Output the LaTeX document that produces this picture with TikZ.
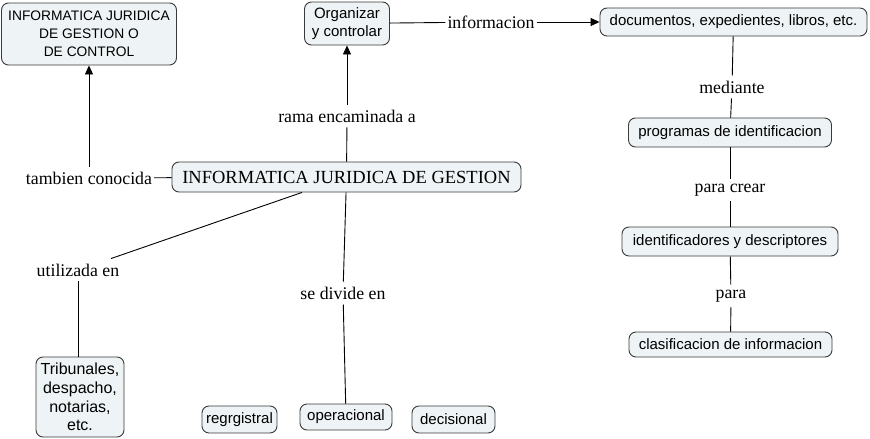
\documentclass[tikz,border=0pt]{standalone}
\usepackage{fontspec}
\setmainfont{Liberation Serif}
\setsansfont{Liberation Sans}
\usetikzlibrary{arrows.meta}
\definecolor{boxfill}{HTML}{EEF3F5}
\definecolor{boxline}{HTML}{3A3A3A}
\begin{document}
\begin{tikzpicture}[x=1pt,y=-1pt,
  concept/.style={draw=boxline, fill=boxfill, rounded corners=7pt, line width=0.9pt,
    font=\sffamily\fontsize{15}{18}\selectfont, align=center, inner sep=2pt},
  lbl/.style={font=\fontsize{17.8}{20}\selectfont, inner xsep=2pt, inner ysep=5pt},
  link/.style={draw=black, line width=0.9pt},
  arr/.style={link, -{Triangle[length=9pt,width=8pt]}}]
\useasboundingbox[fill=white] (0,0) rectangle (870,439);
% concepts
\node[concept, minimum width=175pt, minimum height=62pt, font=\sffamily\fontsize{13.8}{18}\selectfont] (A) at (89,34) {INFORMATICA JURIDICA\\DE GESTION O\\DE CONTROL};
\node[concept, minimum width=85pt, minimum height=43pt] (B) at (347,23.5) {Organizar\\y controlar};
\node[concept, minimum width=267pt, minimum height=28pt] (C) at (733.5,22) {documentos, expedientes, libros, etc.};
\node[concept, minimum width=203pt, minimum height=29pt] (D) at (730,132.5) {programas de identificacion};
\node[concept, minimum width=216pt, minimum height=29pt] (E) at (730,241.5) {identificadores y descriptores};
\node[concept, minimum width=203pt, minimum height=25pt] (F) at (730.5,344.5) {clasificacion de informacion};
\node[concept, minimum width=349pt, minimum height=30pt, font=\fontsize{18.5}{20}\selectfont] (G) at (346.5,177) {INFORMATICA JURIDICA DE GESTION};
\node[concept, minimum width=88pt, minimum height=80pt, font=\sffamily\fontsize{16}{18.8}\selectfont] (H) at (80,397) {Tribunales,\\despacho,\\notarias,\\etc.};
\node[concept, minimum width=75pt, minimum height=27pt] (I) at (239.5,419.5) {regrgistral};
\node[concept, minimum width=92pt, minimum height=26pt] (J) at (346,417) {operacional};
\node[concept, minimum width=83pt, minimum height=27pt] (K) at (453.5,419.5) {decisional};
% labels
\node[lbl] (tc) at (89,178) {tambien conocida};
\node[lbl] (re) at (347,116) {rama encaminada a};
\node[lbl] (inf) at (491,22) {informacion};
\node[lbl] (me) at (732,87) {mediante};
\node[lbl] (pc) at (730,190) {para crear};
\node[lbl] (pa) at (731,296) {para};
\node[lbl] (ue) at (78,270) {utilizada en};
\node[lbl] (sd) at (343,293) {se divide en};
% connectors
\draw[link] (G) -- (tc);
\draw[arr] (tc) -- (A);
\draw[link] (G) -- (re);
\draw[arr] (re) -- (B);
\draw[link] (B) -- (inf);
\draw[arr] (inf) -- (C);
\draw[link] (C) -- (me);
\draw[link] (me) -- (D);
\draw[link] (D) -- (pc);
\draw[link] (pc) -- (E);
\draw[link] (E) -- (pa);
\draw[link] (pa) -- (F);
\draw[link] (G) -- (ue);
\draw[link] (ue.south) -- (ue.south |- H.north);
\draw[link] (G) -- (sd);
\draw[link] (sd) -- (J);
\end{tikzpicture}
\end{document}
